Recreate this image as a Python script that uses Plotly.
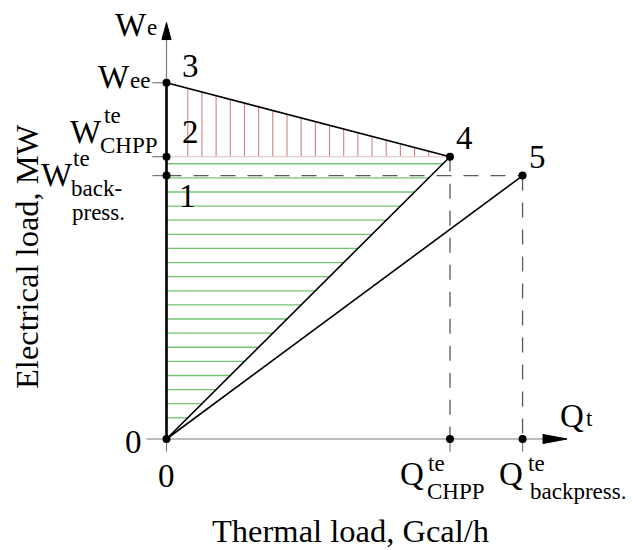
import plotly.graph_objects as go

# ---- schematic data ----
Q_CHPP = 10.0      # thermal load of CHPP
Q_BACK = 12.56     # thermal load of back-pressure plant
W_BACK = 9.33      # electrical load back-pressure
W_CHPP = 10.0      # electrical load CHPP
W_EE = 12.62       # W_ee
HATCH_STEP = 0.5
HATCH_START = 0.75

point_labels = ["1", "2", "3", "4", "5"]
point_q = [0, 0, 0, Q_CHPP, Q_BACK]
point_w = [W_BACK, W_CHPP, W_EE, W_CHPP, W_BACK]

W_PX, H_PX = 633, 550
FONT = "Liberation Serif"

fig = go.Figure()

# green horizontal hatching (triangle 0-2-4)
gx, gy = [], []
y = HATCH_START
while y < W_CHPP:
    gx += [0, y * Q_CHPP / W_CHPP, None]
    gy += [y, y, None]
    y += HATCH_STEP
fig.add_trace(go.Scatter(x=gx, y=gy, mode="lines",
                         line=dict(color="#72c472", width=1.3), hoverinfo="skip"))

# red vertical hatching (triangle 2-3-4)
rx, ry = [], []
x = HATCH_START
while x < Q_CHPP:
    rx += [x, x, None]
    ry += [W_CHPP, W_EE - (W_EE - W_CHPP) * x / Q_CHPP, None]
    x += HATCH_STEP
fig.add_trace(go.Scatter(x=rx, y=ry, mode="lines",
                         line=dict(color="#cf8484", width=1.1), hoverinfo="skip"))
fig.add_trace(go.Scatter(x=[0, Q_CHPP], y=[W_CHPP, W_CHPP], mode="lines",
                         line=dict(color="#dcc4c4", width=1.1), hoverinfo="skip"))

# thin gray axes and ticks
gray = "#7a7a7a"
ax_x = [-0.7, 13.4, None, 0, 0, None]
ax_y = [0, 0, None, -0.45, 14.3, None]
for w in [W_EE, W_CHPP, W_BACK]:
    ax_x += [-0.5, 0, None]
    ax_y += [w, w, None]
for q in [Q_CHPP, Q_BACK]:
    ax_x += [q, q, None]
    ax_y += [-0.45, 0, None]
fig.add_trace(go.Scatter(x=ax_x, y=ax_y, mode="lines",
                         line=dict(color=gray, width=1.2), hoverinfo="skip"))

# dashed guide lines
fig.add_trace(go.Scatter(x=[0, Q_BACK, None, Q_CHPP, Q_CHPP, None, Q_BACK, Q_BACK],
                         y=[W_BACK, W_BACK, None, W_CHPP, 0, None, W_BACK, 0],
                         mode="lines",
                         line=dict(color="#5a5a5a", width=1.3, dash="15px,12px"),
                         hoverinfo="skip"))

# solid black lines
fig.add_trace(go.Scatter(x=[0, Q_CHPP, None, 0, Q_BACK, None, 0, Q_CHPP],
                         y=[0, W_CHPP, None, 0, W_BACK, None, W_EE, W_CHPP],
                         mode="lines", line=dict(color="black", width=1.6),
                         hoverinfo="skip"))
fig.add_trace(go.Scatter(x=[0, 0], y=[0, W_EE], mode="lines",
                         line=dict(color="black", width=2.6), hoverinfo="skip"))

# points
fig.add_trace(go.Scatter(x=[0] + point_q + [Q_CHPP, Q_BACK],
                         y=[0] + point_w + [0, 0],
                         mode="markers", marker=dict(color="black", size=8),
                         hoverinfo="skip"))

# axis arrow heads
fig.add_shape(type="path", xref="x", yref="y",
              path="M 13.28 -0.16 L 14.13 0 L 13.28 0.16 Z",
              fillcolor="black", line=dict(color="black", width=1))
fig.add_shape(type="path", xref="x", yref="y",
              path="M -0.16 14.15 L 0 14.75 L 0.16 14.15 Z",
              fillcolor="black", line=dict(color="black", width=1))


def lab(text, px, py, size, **kw):
    fig.add_annotation(x=px / W_PX, y=1 - py / H_PX, xref="paper", yref="paper",
                       text=text, showarrow=False, xanchor="center", yanchor="middle",
                       borderpad=0,
                       font=dict(family=FONT, size=size, color="black"), **kw)


BIG, SMALL, TITLE = 33, 23, 32.5
# y axis name
lab("W", 131, 25, BIG)
lab("e", 152, 28, SMALL)
# W_ee
lab("W", 114, 77, BIG)
lab("ee", 140, 80, SMALL)
# point numbers
label_pos = {"1": (188, 196), "2": (190, 132), "3": (190, 66), "4": (464, 138), "5": (537, 157)}
for name in point_labels:
    lab(name, *label_pos[name], BIG)
lab("0", 133, 442, BIG)
lab("0", 166, 476, BIG)
# W CHPP
lab("W", 86, 132, BIG)
lab("te", 112, 115, SMALL)
lab("CHPP", 129, 146, SMALL)
# W back-press
lab("W", 57, 175, BIG)
lab("te", 82, 158, SMALL)
lab("back-", 96, 188, SMALL)
lab("press.", 98, 212, SMALL)
# Q_t
lab("Q", 572, 416, BIG)
lab("t", 589, 418, SMALL)
# Q CHPP
lab("Q", 412, 474, BIG)
lab("te", 436, 463, SMALL)
lab("CHPP", 456, 491, SMALL)
# Q back-press
lab("Q", 511, 474, BIG)
lab("te", 536, 463, SMALL)
lab("backpress.", 578, 491, SMALL)
# axis titles
lab("Thermal load, Gcal/h", 350, 531, TITLE)
lab("Electrical load, MW", 27, 257, TITLE, textangle=-90)

fig.update_layout(
    width=W_PX, height=H_PX,
    margin=dict(l=0, r=0, t=0, b=0),
    paper_bgcolor="white", plot_bgcolor="white",
    showlegend=False,
    xaxis=dict(range=[-5.873, 16.455], visible=False, fixedrange=True),
    yaxis=dict(range=[-3.932, 15.551], visible=False, fixedrange=True),
)

fig.write_html("out.html")
